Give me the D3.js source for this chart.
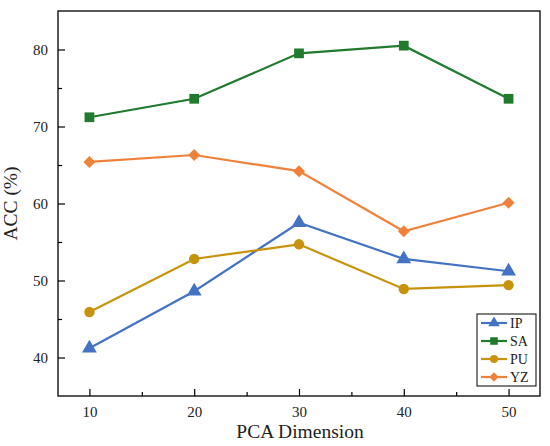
<!DOCTYPE html>
<html><head><meta charset="utf-8">
<script src="https://cdn.jsdelivr.net/npm/d3@7"></script>
<style>body{margin:0;background:#fff} svg text{font-family:"Liberation Serif","Times New Roman",Times,serif;}</style>
</head><body>
<svg id="c" width="550" height="446"></svg>
<script>
const dims = [10, 20, 30, 40, 50];
const seriesNames = ["IP", "SA", "PU", "YZ"];
const IP = [41.2, 48.6, 57.5, 52.8, 51.2];
const SA = [71.2, 73.6, 79.5, 80.5, 73.6];
const PU = [45.9, 52.8, 54.7, 48.9, 49.4];
const YZ = [65.4, 66.3, 64.2, 56.4, 60.1];
const xTicks = [10, 20, 30, 40, 50];
const yTicks = [40, 50, 60, 70, 80];

const series = [
  {name: "IP", values: IP, color: "#4472c4", shape: d3.symbolTriangle, rot: 0, size: 95},
  {name: "SA", values: SA, color: "#217a2e", shape: d3.symbolSquare, rot: 0, size: 95},
  {name: "PU", values: PU, color: "#c8930c", shape: d3.symbolCircle, rot: 0, size: 85},
  {name: "YZ", values: YZ, color: "#f0813a", shape: d3.symbolSquare, rot: 45, size: 72}
];

const svg = d3.select("#c");
const L = 58, R = 540, T = 11, B = 396;
const x = d3.scaleLinear().domain([7, 53]).range([L, R]);
const y = d3.scaleLinear().domain([35, 85]).range([B, T]);

svg.append("rect").attr("x", L).attr("y", T).attr("width", R - L).attr("height", B - T)
  .attr("fill", "none").attr("stroke", "#000").attr("stroke-width", 1.3);

function styleAxis(g) {
  g.select(".domain").remove();
  g.attr("font-family", null).attr("font-size", null);
  g.selectAll("line").attr("stroke-width", 1.2);
  g.selectAll("text").attr("font-size", 15).attr("fill", "#222");
}
styleAxis(svg.append("g").attr("transform", `translate(0,${B})`)
  .call(d3.axisBottom(x).tickValues(xTicks).tickSize(-7).tickPadding(10).tickFormat(d3.format("d"))));
styleAxis(svg.append("g").attr("transform", `translate(0,${B})`)
  .call(d3.axisBottom(x).tickValues([15, 25, 35, 45]).tickSize(-4).tickFormat("")));
styleAxis(svg.append("g").attr("transform", `translate(${L},0)`)
  .call(d3.axisLeft(y).tickValues(yTicks).tickSize(-7).tickPadding(10).tickFormat(d3.format("d"))));
styleAxis(svg.append("g").attr("transform", `translate(${L},0)`)
  .call(d3.axisLeft(y).tickValues([45, 55, 65, 75]).tickSize(-4).tickFormat("")));

svg.append("text").attr("x", 300).attr("y", 438).attr("text-anchor", "middle")
  .attr("font-size", 19.5).attr("fill", "#222").text("PCA Dimension");
svg.append("text").attr("transform", `translate(17,${(T + B) / 2}) rotate(-90)`).attr("text-anchor", "middle")
  .attr("font-size", 19.5).attr("fill", "#222").text("ACC (%)");

const line = d3.line().x((d, i) => x(dims[i])).y(d => y(d));
series.forEach(s => {
  svg.append("path").datum(s.values).attr("d", line).attr("fill", "none")
    .attr("stroke", s.color).attr("stroke-width", 2.2);
  svg.selectAll(null).data(s.values).enter().append("path")
    .attr("transform", (d, i) => `translate(${x(dims[i])},${y(d)}) rotate(${s.rot})`)
    .attr("d", d3.symbol().type(s.shape).size(s.size))
    .attr("fill", s.color);
});

const lg = svg.append("g");
lg.append("rect").attr("x", 477).attr("y", 314).attr("width", 59).attr("height", 72)
  .attr("fill", "#fff").attr("stroke", "#000").attr("stroke-width", 1);
series.forEach((s, i) => {
  const yy = 323 + i * 18;
  lg.append("line").attr("x1", 481).attr("x2", 507).attr("y1", yy).attr("y2", yy)
    .attr("stroke", s.color).attr("stroke-width", 2.2);
  lg.append("path").attr("transform", `translate(494,${yy}) rotate(${s.rot})`)
    .attr("d", d3.symbol().type(s.shape).size(s.size * 0.6)).attr("fill", s.color);
  lg.append("text").attr("x", 510).attr("y", yy + 5)
    .attr("font-size", 14).attr("fill", "#222").text(s.name);
});
</script>
</body></html>
